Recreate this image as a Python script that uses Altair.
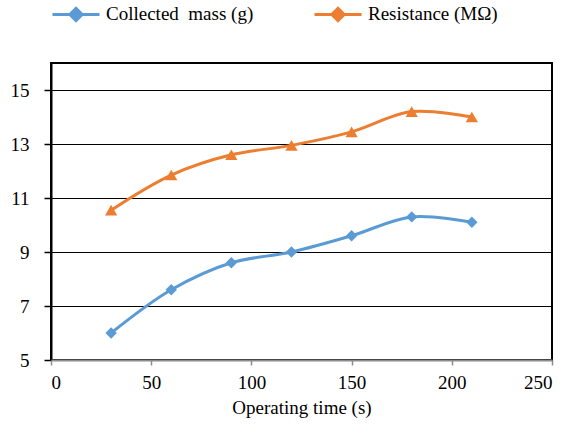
import altair as alt
import pandas as pd

time_s = [30, 60, 90, 120, 150, 180, 210]
mass_g = [6.0, 7.6, 8.6, 9.0, 9.6, 10.3, 10.1]
resistance_mohm = [10.55, 11.85, 12.6, 12.95, 13.45, 14.2, 14.0]
series_names = ["Collected\u00a0 mass (g)", "Resistance (M\u03a9)"]
series_colors = ["#5B9BD5", "#ED7D31"]
x_ticks = [0, 50, 100, 150, 200, 250]
y_ticks = [5, 7, 9, 11, 13, 15]

rows = []
for t, v in zip(time_s, mass_g):
    rows.append({"time": t, "value": v, "series": series_names[0]})
for t, v in zip(time_s, resistance_mohm):
    rows.append({"time": t, "value": v, "series": series_names[1]})
df = pd.DataFrame(rows)

FONT = "Liberation Serif"

x = alt.X("time:Q", scale=alt.Scale(domain=[0, 250], nice=False),
          axis=alt.Axis(values=x_ticks, title="Operating time (s)", grid=False,
                        domainColor="#8c8c8c", domainWidth=2, tickColor="#8c8c8c",
                        tickSize=5, tickWidth=1.5, labelPadding=8, zindex=2,
                        labelFont=FONT, labelFontSize=19, labelColor="black",
                        titleFont=FONT, titleFontSize=19, titleFontWeight="normal",
                        titleColor="black", titlePadding=6))
y = alt.Y("value:Q", scale=alt.Scale(domain=[5, 16], nice=False, zero=False),
          axis=alt.Axis(values=y_ticks, title=None, grid=True, gridColor="black",
                        gridWidth=1, domainColor="black", domainWidth=2,
                        tickColor="black", tickSize=7, tickWidth=1.5, labelPadding=15,
                        labelFont=FONT, labelFontSize=19, labelColor="black"))

base = alt.Chart(df)
cscale = alt.Scale(domain=series_names, range=series_colors)

legend_symbol = ("M-1,0L1,0M0,-0.26L0.26,0L0,0.26L-0.26,0Z"
                 "M0,-0.13L0.13,0L0,0.13L-0.13,0Z")

leg = alt.Legend(title=None, orient="top", direction="horizontal", offset=36,
                 symbolSize=2209, symbolStrokeWidth=3, symbolType=legend_symbol,
                 labelFont=FONT, labelFontSize=19, labelColor="black",
                 columnPadding=54, labelOffset=5, symbolOpacity=1)

lines = base.mark_line(interpolate="catmull-rom", strokeWidth=3).encode(
    x=x, y=y, color=alt.Color("series:N", scale=cscale, legend=leg))

mass_pts = base.transform_filter(alt.datum.series == series_names[0]).mark_point(
    filled=True, shape="diamond", size=130, opacity=1).encode(
    x=x, y=y, color=alt.Color("series:N", scale=cscale, legend=leg))
res_pts = base.transform_filter(alt.datum.series == series_names[1]).mark_point(
    filled=True, shape="triangle-up", size=150, opacity=1).encode(
    x=x, y=y, color=alt.Color("series:N", scale=cscale, legend=leg))

chart = alt.layer(lines, mass_pts, res_pts).properties(
    width=501, height=297,
    background="white",
    autosize=alt.AutoSizeParams(type="none"),
    padding={"left": 51, "top": 63, "right": 17, "bottom": 81},
).configure(font=FONT).configure_view(stroke="black", strokeWidth=2)

chart.save("out.html", embed_options={"renderer": "svg", "actions": False})
